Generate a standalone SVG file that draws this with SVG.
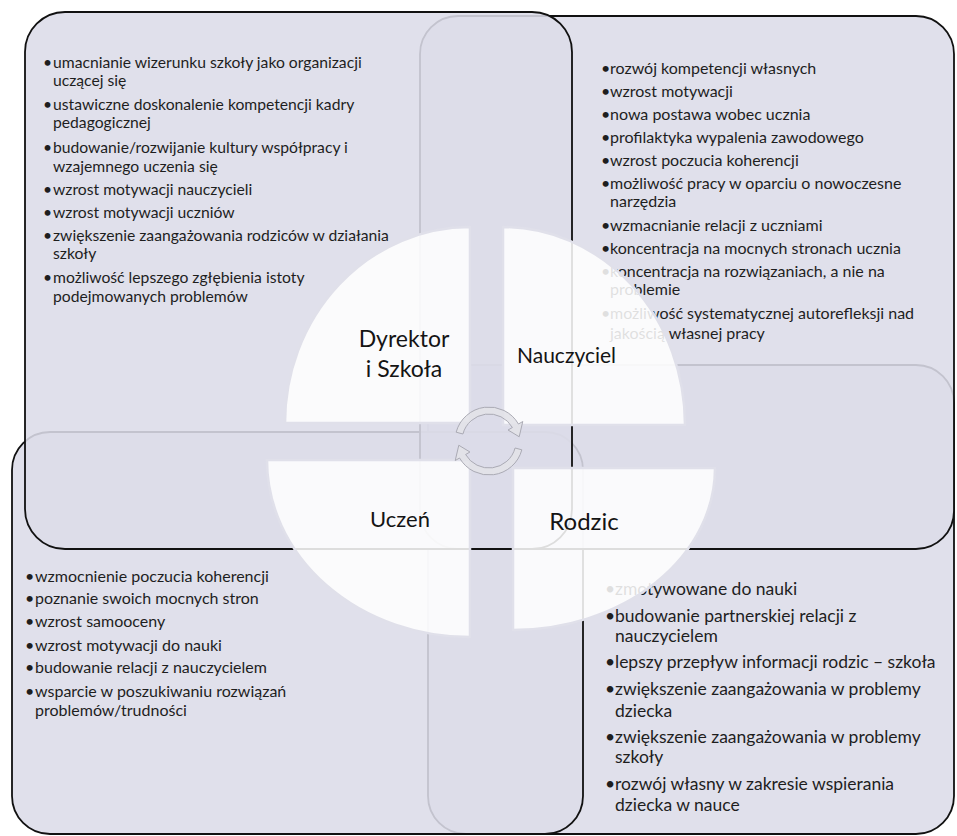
<svg xmlns="http://www.w3.org/2000/svg" width="957" height="836" viewBox="0 0 957 836">
<style>
.box{fill:#dcdce8;fill-opacity:0.88;stroke:#111;stroke-width:1.8}
.t{font-family:Lato,"Open Sans",sans-serif;fill:#1e1e1e}
.ta{font-size:15.7px}
.tb{font-size:16px}
.tc{font-size:16px}
.td{font-size:17.5px}
.q{fill:#fff;fill-opacity:0.86;stroke:#e0e0ea;stroke-width:2.5}
.lbl{font-family:Lato,"Open Sans",sans-serif;fill:#141414}
.arr{fill:#e2e2e8;fill-opacity:0.9;stroke:#a4a4ae;stroke-width:0.9}
</style>
<rect width="957" height="836" fill="#fff"/>

<g id="box-rodzic">
<rect class="box" x="428" y="365" width="526" height="469" rx="38"/>
<g class="t td">
<text x="605" y="595">•<tspan x="615">zmotywowane do nauki</tspan></text>
<text x="605" y="622">•<tspan x="615">budowanie partnerskiej relacji z</tspan></text>
<text x="615" y="642">nauczycielem</text>
<text x="605" y="668">•<tspan x="615">lepszy przepływ informacji rodzic – szkoła</tspan></text>
<text x="605" y="695">•<tspan x="615">zwiększenie zaangażowania w problemy</tspan></text>
<text x="615" y="717">dziecka</text>
<text x="605" y="743">•<tspan x="615">zwiększenie zaangażowania w problemy</tspan></text>
<text x="615" y="763">szkoły</text>
<text x="605" y="790">•<tspan x="615">rozwój własny w zakresie wspierania</tspan></text>
<text x="615" y="811">dziecka w nauce</text>
</g>
</g>

<g id="box-uczen">
<rect class="box" x="12" y="432" width="571" height="402" rx="38"/>
<g class="t tc">
<text x="25" y="582">•<tspan x="35">wzmocnienie poczucia koherencji</tspan></text>
<text x="25" y="604">•<tspan x="35">poznanie swoich mocnych stron</tspan></text>
<text x="25" y="627">•<tspan x="35">wzrost samooceny</tspan></text>
<text x="25" y="651">•<tspan x="35">wzrost motywacji do nauki</tspan></text>
<text x="25" y="673">•<tspan x="35">budowanie relacji z nauczycielem</tspan></text>
<text x="25" y="697">•<tspan x="35">wsparcie w poszukiwaniu rozwiązań</tspan></text>
<text x="35" y="716">problemów/trudności</text>
</g>
</g>

<g id="box-nauczyciel">
<rect class="box" x="420" y="16" width="534" height="533" rx="38"/>
<g class="t tb">
<text x="601" y="74">•<tspan x="610">rozwój kompetencji własnych</tspan></text>
<text x="601" y="97">•<tspan x="610">wzrost motywacji</tspan></text>
<text x="601" y="120">•<tspan x="610">nowa postawa wobec ucznia</tspan></text>
<text x="601" y="143">•<tspan x="610">profilaktyka wypalenia zawodowego</tspan></text>
<text x="601" y="166">•<tspan x="610">wzrost poczucia koherencji</tspan></text>
<text x="601" y="189">•<tspan x="610">możliwość pracy w oparciu o nowoczesne</tspan></text>
<text x="610" y="207">narzędzia</text>
<text x="601" y="231">•<tspan x="610">wzmacnianie relacji z uczniami</tspan></text>
<text x="601" y="254">•<tspan x="610">koncentracja na mocnych stronach ucznia</tspan></text>
<text x="601" y="277">•<tspan x="610">koncentracja na rozwiązaniach, a nie na</tspan></text>
<text x="610" y="295">problemie</text>
<text x="601" y="319">•<tspan x="610">możliwość systematycznej autorefleksji nad</tspan></text>
<text x="610" y="339">jakością własnej pracy</text>
</g>
</g>

<g id="box-dyrektor">
<rect class="box" x="25" y="12" width="547" height="537" rx="40"/>
<g class="t ta">
<text x="43" y="68">•<tspan x="53">umacnianie wizerunku szkoły jako organizacji</tspan></text>
<text x="53" y="86">uczącej się</text>
<text x="43" y="110">•<tspan x="53">ustawiczne doskonalenie kompetencji kadry</tspan></text>
<text x="53" y="128">pedagogicznej</text>
<text x="43" y="153">•<tspan x="53">budowanie/rozwijanie kultury współpracy i</tspan></text>
<text x="53" y="172">wzajemnego uczenia się</text>
<text x="43" y="195">•<tspan x="53">wzrost motywacji nauczycieli</tspan></text>
<text x="43" y="218">•<tspan x="53">wzrost motywacji uczniów</tspan></text>
<text x="43" y="241">•<tspan x="53">zwiększenie zaangażowania rodziców w działania</tspan></text>
<text x="53" y="259">szkoły</text>
<text x="43" y="283">•<tspan x="53">możliwość lepszego zgłębienia istoty</tspan></text>
<text x="53" y="302">podejmowanych problemów</text>
</g>
</g>

<g id="quarter-dyrektor">
<path class="q" d="M470 423 L285 423 A185 196 0 0 1 470 227 Z"/>
<text class="lbl" x="404" y="347" font-size="23" text-anchor="middle">Dyrektor</text>
<text class="lbl" x="404" y="377" font-size="23" text-anchor="middle">i Szkoła</text>
</g>
<g id="quarter-nauczyciel">
<path class="q" d="M503 425 L503 227 A182 198 0 0 1 685 425 Z"/>
<text class="lbl" x="517" y="363" font-size="21">Nauczyciel</text>
</g>
<g id="quarter-uczen">
<path class="q" d="M470 460 L470 637 A203 177 0 0 1 267 460 Z"/>
<text class="lbl" x="400" y="527" font-size="22" text-anchor="middle">Uczeń</text>
</g>
<g id="quarter-rodzic">
<path class="q" d="M513 468 L715 468 A202 162 0 0 1 513 630 Z"/>
<text class="lbl" x="584" y="530" font-size="24" text-anchor="middle">Rodzic</text>
</g>

<g id="connectors">
<path class="arr" d="M456.16 432.2 A34 34 0 0 1 518.44 424 L522.77 421.5 L519.2 436.75 L508.05 430 L512.38 427.5 A27 27 0 0 0 462.92 434.01 Z"/>
<path class="arr" d="M521.84 449.8 A34 34 0 0 1 459.56 458 L455.23 460.5 L458.8 445.25 L469.95 452 L465.62 454.5 A27 27 0 0 0 515.08 447.99 Z"/>
</g>
</svg>
